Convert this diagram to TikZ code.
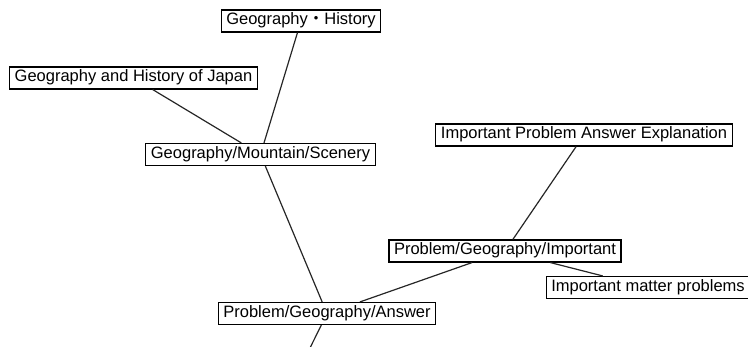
\documentclass[tikz,border=0pt]{standalone}
\usepackage{fontspec}
\setmainfont{Liberation Sans}
\newfontfamily\cjk{Noto Sans CJK JP}
\usepackage{tikz}

\begin{document}
\begin{tikzpicture}[x=1pt, y=-1pt,
    tag/.style={draw, line width=1.1pt, fill=white, font=\fontsize{16.5}{18}\selectfont,
      inner xsep=5pt, inner ysep=3pt, text height=12pt, text depth=4pt},
    link/.style={draw=black!85, line width=1.2pt}]
      \useasboundingbox (0, 0) rectangle (748, 347);
      \node[tag] (gh) at (301, 21) {Geography{\cjk ・}History};
      \node[tag] (ghj) at (133.5, 78) {Geography and History of Japan};
      \node[tag] (gms) at (260.5, 154.5) {Geography/Mountain/Scenery};
      \node[tag] (ipae) at (584, 135) {Important Problem Answer Explanation};
      \node[tag] (pgi) at (505, 251) {Problem/Geography/Important};
      \node[tag] (imp) at (648, 287.5) {Important matter problems};
      \node[tag] (pga) at (327, 313.5) {Problem/Geography/Answer};
      \coordinate (tail) at (309, 350);
      \draw[link] (gh) -- (gms);
      \draw[link] (ghj) -- (gms);
      \draw[link] (gms) -- (pga);
      \draw[link] (pga) -- (pgi);
      \draw[link] (pgi) -- (ipae);
      \draw[link] (pgi) -- (imp);
      \draw[link] (pga) -- (tail);
    \end{tikzpicture}
\end{document}
